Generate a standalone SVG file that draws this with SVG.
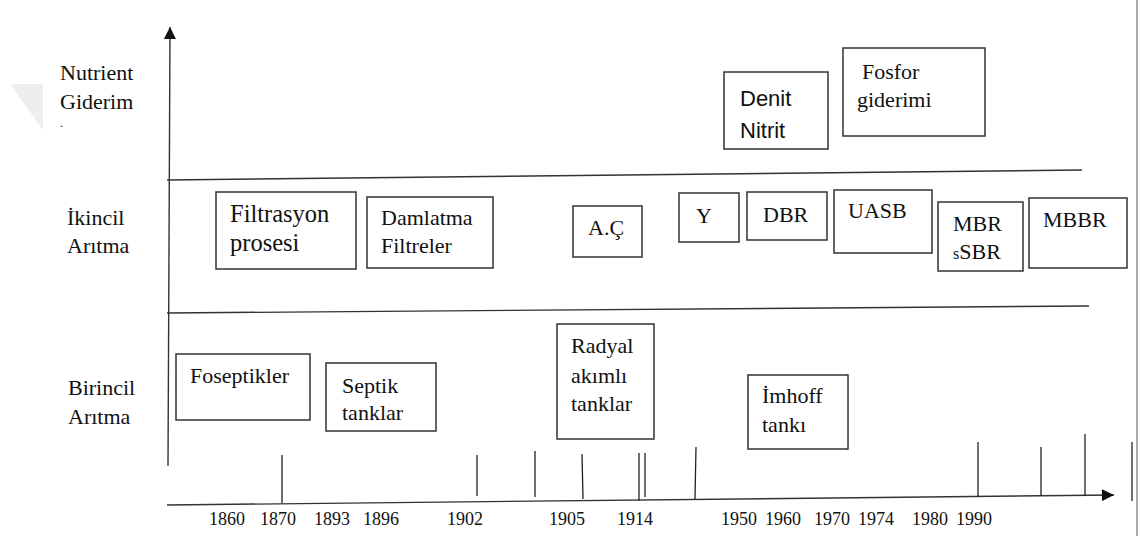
<svg xmlns="http://www.w3.org/2000/svg" width="1140" height="536" viewBox="0 0 1140 536">
<style>
svg{background:#fff}
.t{font-family:'Liberation Serif','Times New Roman','DejaVu Serif',serif;font-size:22px;fill:#111}
.s{font-family:'Liberation Sans',Arial,sans-serif;font-size:22px;fill:#111}
.y{font-family:'Liberation Serif','Times New Roman','DejaVu Serif',serif;font-size:18px;fill:#111}
.b{fill:#fff;stroke:#333;stroke-width:1.5}
.l{stroke:#333;stroke-width:1.4;fill:none}
.tk{stroke:#222;stroke-width:1.3}
</style>
<defs>
<marker id="arr" markerUnits="userSpaceOnUse" viewBox="0 0 12 12" refX="12" refY="6" markerWidth="13" markerHeight="12" orient="auto">
<path d="M0,0 L12,6 L0,12 z" fill="#111"/>
</marker>
</defs>
<rect width="1140" height="536" fill="#fff"/>
<polygon points="10,84 43,84 43,130" fill="#eeeeee"/>
<line x1="1137" y1="0" x2="1137" y2="536" stroke="#aaa" stroke-width="2"/>

<g id="row-labels" font-family="Liberation Serif, serif">
<text class="t" x="60" y="80">Nutrient</text>
<text class="t" x="60" y="109">Giderim</text>
<text class="t" x="60" y="127" style="font-size:12px">.</text>
<text class="t" x="67" y="225">İkincil</text>
<text class="t" x="67" y="253">Arıtma</text>
<text class="t" x="68" y="395">Birincil</text>
<text class="t" x="68" y="424">Arıtma</text>
</g>

<g id="connectors">
<line class="l" x1="168" y1="466" x2="170" y2="27" marker-end="url(#arr)"/>
<line class="l" x1="167" y1="505" x2="1114" y2="495" marker-end="url(#arr)"/>
<line class="l" x1="167" y1="180" x2="1082" y2="170"/>
<line class="l" x1="167" y1="313" x2="1089" y2="306"/>
<line class="tk" x1="282" y1="455" x2="282" y2="503"/>
<line class="tk" x1="477" y1="455" x2="477" y2="496"/>
<line class="tk" x1="535" y1="451" x2="535" y2="497"/>
<line class="tk" x1="582" y1="454" x2="583" y2="499"/>
<line class="tk" x1="639" y1="453" x2="639" y2="501"/>
<line class="tk" x1="645" y1="453" x2="645" y2="497"/>
<line class="tk" x1="696" y1="447" x2="695" y2="499"/>
<line class="tk" x1="978" y1="442" x2="978" y2="497"/>
<line class="tk" x1="1041" y1="447" x2="1041" y2="496"/>
<line class="tk" x1="1085" y1="434" x2="1085" y2="496"/>
<line class="tk" x1="1132" y1="442" x2="1132" y2="501"/>
</g>

<g id="years" font-family="Liberation Serif, serif">
<text class="y" x="209" y="525">1860</text>
<text class="y" x="260" y="525">1870</text>
<text class="y" x="314" y="525">1893</text>
<text class="y" x="363" y="525">1896</text>
<text class="y" x="447" y="525">1902</text>
<text class="y" x="549" y="525">1905</text>
<text class="y" x="617" y="525">1914</text>
<text class="y" x="721" y="525">1950</text>
<text class="y" x="765" y="525">1960</text>
<text class="y" x="814" y="525">1970</text>
<text class="y" x="858" y="525">1974</text>
<text class="y" x="912" y="525">1980</text>
<text class="y" x="956" y="525">1990</text>
</g>

<g id="denit-nitrit" font-family="Liberation Sans, sans-serif">
<rect class="b" x="724" y="72" width="104" height="77"/>
<text class="s" x="740" y="106">Denit</text>
<text class="s" x="740" y="138">Nitrit</text>
</g>
<g id="fosfor" font-family="Liberation Serif, serif">
<rect class="b" x="843" y="48" width="142" height="88"/>
<text class="t" x="862" y="79">Fosfor</text>
<text class="t" x="857" y="107">giderimi</text>
</g>

<g id="filtrasyon" font-family="Liberation Serif, serif">
<rect class="b" x="216" y="192" width="140" height="77"/>
<text class="t" x="230" y="222" style="font-size:24.5px">Filtrasyon</text>
<text class="t" x="230" y="251" style="font-size:24.5px">prosesi</text>
</g>
<g id="damlatma" font-family="Liberation Serif, serif">
<rect class="b" x="367" y="197" width="126" height="71"/>
<text class="t" x="381" y="225">Damlatma</text>
<text class="t" x="381" y="253">Filtreler</text>
</g>
<g id="ac" font-family="Liberation Serif, serif">
<rect class="b" x="573" y="206" width="69" height="51"/>
<text class="t" x="588" y="235">A.Ç</text>
</g>
<g id="y-box" font-family="Liberation Serif, serif">
<rect class="b" x="679" y="193" width="60" height="49"/>
<text class="t" x="696" y="223">Y</text>
</g>
<g id="dbr" font-family="Liberation Serif, serif">
<rect class="b" x="747" y="192" width="80" height="48"/>
<text class="t" x="763" y="222">DBR</text>
</g>
<g id="uasb" font-family="Liberation Serif, serif">
<rect class="b" x="834" y="190" width="98" height="63"/>
<text class="t" x="848" y="218">UASB</text>
</g>
<g id="mbr-ssbr" font-family="Liberation Serif, serif">
<rect class="b" x="938" y="202" width="85" height="69"/>
<text class="t" x="953" y="231">MBR</text>
<text class="t" x="953" y="259"><tspan style="font-size:16px">s</tspan>SBR</text>
</g>
<g id="mbbr" font-family="Liberation Serif, serif">
<rect class="b" x="1029" y="198" width="98" height="70"/>
<text class="t" x="1043" y="227">MBBR</text>
</g>

<g id="foseptikler" font-family="Liberation Serif, serif">
<rect class="b" x="176" y="354" width="134" height="66"/>
<text class="t" x="190" y="383">Foseptikler</text>
</g>
<g id="septik" font-family="Liberation Serif, serif">
<rect class="b" x="326" y="363" width="110" height="68"/>
<text class="t" x="342" y="393">Septik</text>
<text class="t" x="342" y="420">tanklar</text>
</g>
<g id="radyal" font-family="Liberation Serif, serif">
<rect class="b" x="557" y="324" width="97" height="115"/>
<text class="t" x="571" y="353">Radyal</text>
<text class="t" x="571" y="383">akımlı</text>
<text class="t" x="571" y="411">tanklar</text>
</g>
<g id="imhoff" font-family="Liberation Serif, serif">
<rect class="b" x="748" y="375" width="100" height="74"/>
<text class="t" x="762" y="403">İmhoff</text>
<text class="t" x="762" y="432">tankı</text>
</g>
</svg>
